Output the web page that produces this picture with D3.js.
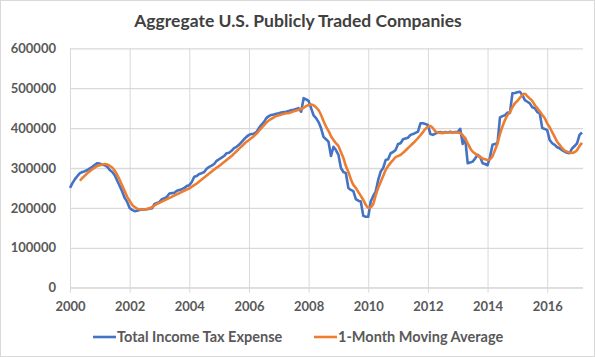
<!DOCTYPE html>
<html><head><meta charset="utf-8">
<script src="https://cdn.jsdelivr.net/npm/d3@7"></script>
<style>
html,body{margin:0;padding:0;background:#fff;}
svg{display:block;}
</style></head>
<body>
<svg id="chart" width="595" height="357"></svg>
<script>
const title = "Aggregate U.S. Publicly Traded Companies";
const seriesNames = ["Total Income Tax Expense", "1-Month Moving Average"];
const xTicks = [2000, 2002, 2004, 2006, 2008, 2010, 2012, 2014, 2016];
const yTicks = [0, 100000, 200000, 300000, 400000, 500000, 600000];
// monthly values (thousands) starting Jan 2000
const blueStart = 2000;
const blueValues = [
 250,262,272,280,287,290,292,295,299,303,308,312,
 311,308,307,303,295,290,282,268,255,241,225,215,
 200,195,192,193,195,196,196,197,198,199,210,212,
 215,222,224,228,236,237,238,243,245,247,250,255,
 257,265,278,280,285,287,290,298,303,306,310,318,
 322,326,330,337,338,343,350,353,358,365,372,378,
 383,385,386,390,400,408,415,425,430,433,434,436,
 437,439,440,441,443,445,446,448,450,441,475,472,
 468,450,432,425,415,400,378,372,366,330,353,345,
 333,300,290,287,250,245,242,222,218,216,180,178,
 178,216,230,241,270,291,300,320,322,337,340,345,
 360,362,372,374,376,383,385,388,391,412,412,410,
 408,385,383,386,389,390,388,390,389,391,389,390,
 390,398,360,375,312,314,316,324,333,328,312,310,
 307,328,358,360,362,427,430,432,439,438,487,488,
 490,491,483,470,466,462,452,450,440,437,400,398,
 395,370,362,358,352,349,345,341,338,337,349,355,
 362,383,389
];
// moving average, monthly values (thousands) starting May 2000
const orangeStart = 2000 + 4/12;
const orangeValues = [
 268,275,281,287,292,297,301,305,
 307,309,310,309,305,301,293,283,270,256,242,228,
 218,208,202,198,196,196,196,197,199,202,206,210,
 213,216,219,222,225,228,231,234,237,240,243,246,
 249,253,257,261,266,271,276,281,286,291,296,301,
 305,310,315,320,325,330,336,342,348,354,360,366,
 370,375,380,386,393,400,407,414,419,423,427,430,
 432,434,436,437,438,440,442,444,446,448,451,455,
 458,459,457,452,445,433,418,404,393,380,370,362,
 355,340,325,305,290,272,258,250,240,230,220,208,
 200,202,210,232,250,265,280,295,305,313,320,327,
 330,333,338,344,350,356,362,368,375,382,390,398,
 403,405,400,392,389,388,388,389,389,389,389,389,
 389,388,382,374,362,350,341,336,331,327,324,322,
 320,322,330,345,362,385,404,420,432,440,452,462,
 468,476,483,486,480,474,468,458,450,442,433,425,
 412,402,390,378,366,358,350,344,341,339,338,340,
 345,355,363
];

const blueData = blueValues.map((v,i)=>({t: blueStart + i/12, v: v*1000}));
const orangeData = orangeValues.map((v,i)=>({t: orangeStart + i/12, v: v*1000}));

const svg = d3.select("#chart");
const W = 595, H = 357;
const pL = 70, pR = 583, pT = 48.3, pB = 287.7;
const textColor = "#595959";
const font = "Lato, 'Noto Sans', sans-serif";

svg.append("rect").attr("x",0.5).attr("y",0.5).attr("width",W-1).attr("height",H-1)
  .attr("fill","#fff").attr("stroke","#d9d9d9");

const x = d3.scaleLinear().domain([2000, 2017.2]).range([pL, pR]);
const y = d3.scaleLinear().domain([0, 600000]).range([pB, pT]);

// horizontal gridlines
svg.append("g").attr("transform",`translate(${pL},0)`)
  .call(d3.axisLeft(y).tickValues(yTicks).tickSize(-(pR-pL)).tickFormat(""))
  .call(g=>g.select(".domain").remove())
  .call(g=>g.selectAll("line").attr("stroke","#d9d9d9").attr("stroke-width",1.3));

// vertical gridlines
svg.append("g").attr("transform",`translate(0,${pB})`)
  .call(d3.axisBottom(x).tickValues(xTicks).tickSize(-(pB-pT)).tickFormat(""))
  .call(g=>g.select(".domain").remove())
  .call(g=>g.selectAll("line").attr("stroke","#d9d9d9").attr("stroke-width",1));

// x axis
const xAxis = svg.append("g").attr("transform",`translate(0,${pB})`)
  .call(d3.axisBottom(x).tickValues(xTicks).tickSize(5).tickPadding(9).tickFormat(d3.format("d")));
xAxis.select(".domain").attr("stroke","#d9d9d9").attr("d",`M${pL},0H${pR}`);
xAxis.selectAll("line").attr("stroke","#d9d9d9");
xAxis.selectAll("text").attr("fill",textColor).attr("font-family",font)
  .attr("font-size","13px").attr("font-weight","bold");

// y axis labels
const yAxis = svg.append("g").attr("transform",`translate(${pL},0)`)
  .call(d3.axisLeft(y).tickValues(yTicks).tickSize(0).tickPadding(14).tickFormat(d3.format("d")));
yAxis.select(".domain").remove();
yAxis.selectAll("text").attr("fill",textColor).attr("font-family",font)
  .attr("font-size","13px").attr("font-weight","bold");

// lines
const line = d3.line().x(d=>x(d.t)).y(d=>y(d.v));
svg.append("path").datum(blueData).attr("d",line)
  .attr("fill","none").attr("stroke","#4472C4").attr("stroke-width",2.6).attr("stroke-linejoin","round");
const line2 = d3.line().x(d=>x(d.t)).y(d=>y(d.v)).curve(d3.curveMonotoneX);
svg.append("path").datum(orangeData).attr("d",line2)
  .attr("fill","none").attr("stroke","#ED7D31").attr("stroke-width",2.6).attr("stroke-linejoin","round");

// title
svg.append("text").attr("x",298).attr("y",27).attr("text-anchor","middle")
  .attr("fill","#404040").attr("font-family",font).attr("font-size","17.5px").attr("font-weight","bold")
  .text(title);

// legend
const legendItems = [
  {name: seriesNames[0], color:"#4472C4", x0: 93},
  {name: seriesNames[1], color:"#ED7D31", x0: 314}
];
const lg = svg.append("g");
legendItems.forEach(it=>{
  lg.append("line").attr("x1",it.x0).attr("x2",it.x0+23).attr("y1",337).attr("y2",337)
    .attr("stroke",it.color).attr("stroke-width",2.6);
  lg.append("text").attr("x",it.x0+24).attr("y",342).attr("fill",textColor)
    .attr("font-family",font).attr("font-size","14.5px").attr("font-weight","bold").text(it.name);
});
</script>
</body></html>
